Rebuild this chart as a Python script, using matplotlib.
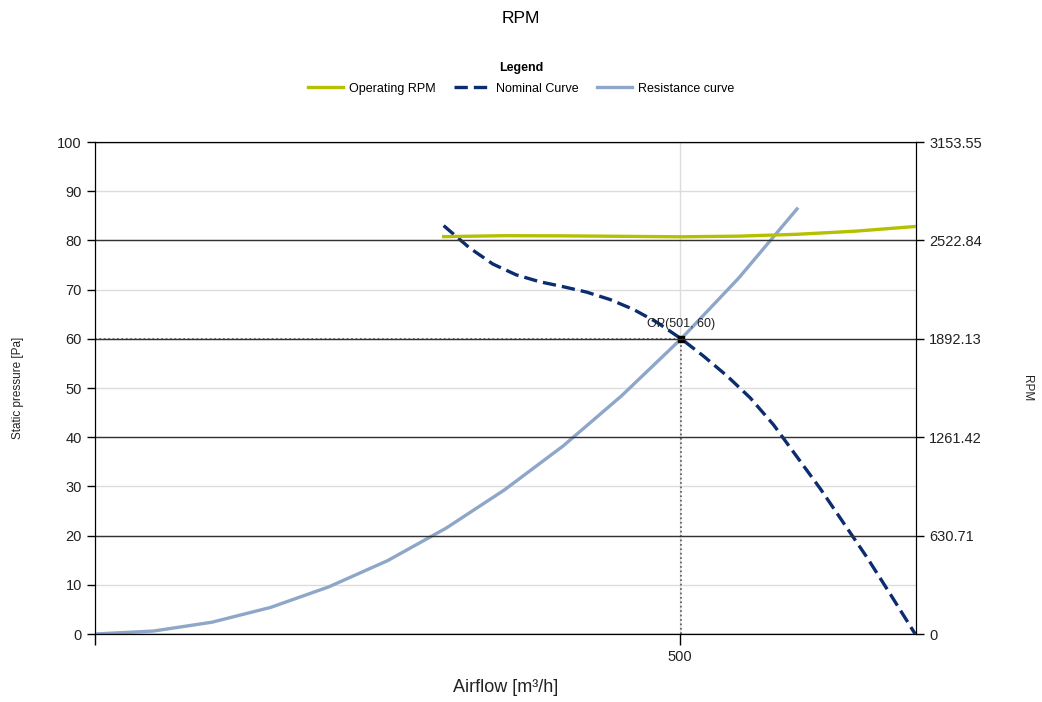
import numpy as np
import matplotlib.pyplot as plt

plt.rcParams['font.family'] = ['Liberation Sans', 'DejaVu Sans']

# resistance curve (airflow m3/h -> static pressure Pa)
res_x = [0, 50, 100, 150, 200, 250, 300, 350, 400, 450, 501, 550, 600]
res_y = [0, 0.6, 2.4, 5.4, 9.6, 14.9, 21.5, 29.3, 38.2, 48.4, 60.0, 72.3, 86.4]

# nominal fan curve
nom_x = [298, 320, 340, 360, 380, 400, 420, 440, 460, 480, 501,
         520, 540, 560, 580, 600, 620, 640, 660, 680, 701]
nom_y = [83.0, 78.5, 75.2, 73.0, 71.6, 70.6, 69.5, 68.0, 66.0, 63.4, 60.0,
         56.5, 52.5, 48.0, 42.5, 36.0, 29.5, 22.5, 15.5, 8.0, 0.0]

# operating rpm (right axis)
rpm_x = [298, 350, 400, 450, 501, 550, 600, 650, 701]
rpm_y = [2547, 2553, 2552, 2549, 2546, 2550, 2562, 2582, 2612]

op_x, op_y = 501, 60
rpm_max = 3153.55
rpm_ticks = [0, 630.71, 1261.42, 1892.13, 2522.84, 3153.55]

fig = plt.figure(figsize=(10.42, 7.02), dpi=100)
ax = fig.add_axes([95 / 1042, 68 / 702, 821 / 1042, 492 / 702])
ax2 = ax.twinx()

ax.set_xlim(0, 701.7)
ax.set_ylim(0, 100)
ax2.set_ylim(0, rpm_max)

# light grid on left axis, dark grid on right axis
ax.set_yticks(np.arange(0, 101, 10))
ax.set_xticks([0, 500])
ax.set_xticklabels(['', '500'])
ax.grid(True, color='#dcdcdc', linewidth=1)
ax2.set_yticks(rpm_ticks)
ax2.set_yticklabels(['0', '630.71', '1261.42', '1892.13', '2522.84', '3153.55'])
ax2.grid(True, color='#333333', linewidth=1, axis='y')

ax.plot(res_x, res_y, color='#8ea6c8', linewidth=2.4, label='Resistance curve', zorder=3)
ax.plot(nom_x, nom_y, color='#0b2d6e', linewidth=2.4, linestyle=(0, (4, 1.8)),
        label='Nominal Curve', zorder=3)
ax2.plot(rpm_x, rpm_y, color='#b5c000', linewidth=2.4, label='Operating RPM', zorder=3)

# operating point with guide lines
ax.plot([0, op_x], [op_y, op_y], color='#555555', linestyle=':', linewidth=1.2, zorder=4)
ax.plot([op_x, op_x], [0, op_y], color='#555555', linestyle=':', linewidth=1.2, zorder=4)
ax.plot([op_x], [op_y], marker='s', color='black', markersize=4, zorder=5)
ax.annotate(f'OP({op_x}, {op_y})', (op_x, op_y), xytext=(0, 6), textcoords='offset points',
            ha='center', va='bottom', fontsize=9, color='#222222', zorder=6)

for a in (ax, ax2):
    for s in a.spines.values():
        s.set_color('black')
    a.tick_params(colors='black', labelcolor='#222222', labelsize=10.5, length=6, width=1)
ax.spines['top'].set_color('#333333')
ax.tick_params(axis='x', length=8)

ax.set_ylabel('Static pressure [Pa]', fontsize=8.5, color='#222222')
ax.yaxis.set_label_coords(-0.087, 0.5)
ax2.set_ylabel('RPM', fontsize=8.5, color='#222222', rotation=-90, va='center')
ax2.yaxis.set_label_coords(1.135, 0.5)
ax.set_xlabel('Airflow [m³/h]', fontsize=13, color='#222222', labelpad=11)

fig.suptitle('RPM', fontsize=12.5, y=0.985)

h1, l1 = ax2.get_legend_handles_labels()
h2, l2 = ax.get_legend_handles_labels()
handles = h1 + [h2[1], h2[0]]
labels = l1 + [l2[1], l2[0]]
leg = fig.legend(handles, labels, loc='center', bbox_to_anchor=(0.5, 0.888), ncol=3,
                 frameon=False, fontsize=9, title='Legend', handlelength=2.8,
                 columnspacing=1.5, handletextpad=0.5)
leg.get_title().set_fontweight('bold')
leg.get_title().set_fontsize(9)
leg._legend_box.sep = 6

fig.savefig('out.png', dpi=100)
